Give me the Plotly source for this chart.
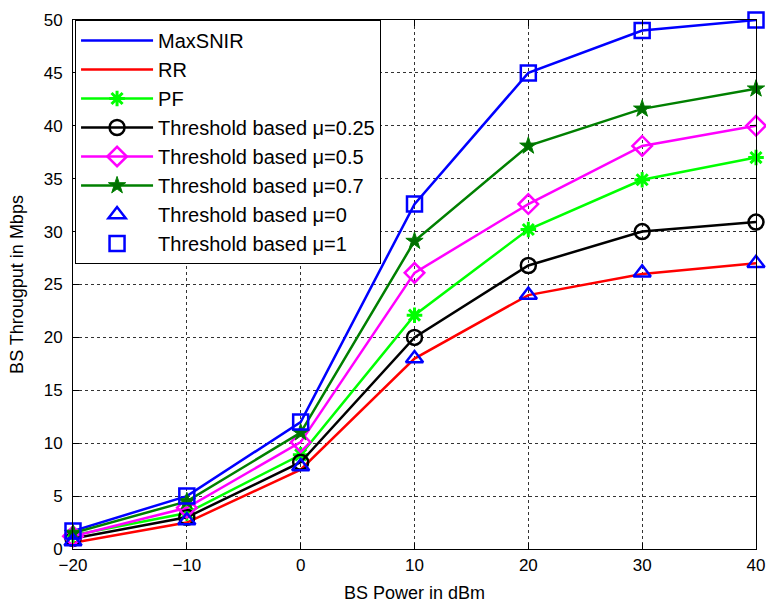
import plotly.graph_objects as go

power_dbm = [-20, -10, 0, 10, 20, 30, 40]
maxsnir = [1.7, 5.0, 12.0, 32.6, 45.0, 49.0, 50.0]
rr = [0.6, 2.5, 7.5, 18.0, 24.0, 26.0, 27.0]
pf = [1.3, 3.4, 8.9, 22.1, 30.2, 34.9, 37.0]
thr_025 = [1.0, 3.0, 8.2, 20.0, 26.8, 30.0, 30.9]
thr_05 = [1.2, 3.9, 10.1, 26.1, 32.6, 38.1, 40.0]
thr_07 = [1.5, 4.5, 11.0, 29.1, 38.1, 41.6, 43.5]
thr_0 = [0.7, 2.7, 7.8, 18.0, 24.0, 26.1, 27.0]
thr_1 = [1.7, 5.0, 12.0, 32.6, 45.0, 49.0, 50.0]

names = ["MaxSNIR", "RR", "PF", "Threshold based μ=0.25", "Threshold based μ=0.5",
         "Threshold based μ=0.7", "Threshold based μ=0", "Threshold based μ=1"]

fig = go.Figure()
lw = 2.5
fig.add_trace(go.Scatter(x=power_dbm, y=maxsnir, name=names[0], mode="lines",
                         line=dict(color="#0000ff", width=lw), cliponaxis=False))
fig.add_trace(go.Scatter(x=power_dbm, y=rr, name=names[1], mode="lines",
                         line=dict(color="#ff0000", width=lw), cliponaxis=False))
fig.add_trace(go.Scatter(x=power_dbm, y=pf, name=names[2], mode="lines+markers",
                         line=dict(color="#00ff00", width=lw),
                         marker=dict(symbol="asterisk-open", size=13, color="#00ff00",
                                     line=dict(color="#00ff00", width=3)), cliponaxis=False))
fig.add_trace(go.Scatter(x=power_dbm, y=thr_025, name=names[3], mode="lines+markers",
                         line=dict(color="#000000", width=lw),
                         marker=dict(symbol="circle-open", size=15, color="#000000",
                                     line=dict(color="#000000", width=2.5)), cliponaxis=False))
fig.add_trace(go.Scatter(x=power_dbm, y=thr_05, name=names[4], mode="lines+markers",
                         line=dict(color="#ff00ff", width=lw),
                         marker=dict(symbol="diamond-open", size=15, color="#ff00ff",
                                     line=dict(color="#ff00ff", width=2.5)), cliponaxis=False))
fig.add_trace(go.Scatter(x=power_dbm, y=thr_07, name=names[5], mode="lines+markers",
                         line=dict(color="#008000", width=lw),
                         marker=dict(symbol="star", size=13, color="#007000",
                                     line=dict(color="#008000", width=1)), cliponaxis=False))
fig.add_trace(go.Scatter(x=power_dbm, y=thr_0, name=names[6], mode="markers",
                         marker=dict(symbol="triangle-up-open", size=15, color="#0000ff",
                                     line=dict(color="#0000ff", width=2.5)), cliponaxis=False))
fig.add_trace(go.Scatter(x=power_dbm, y=thr_1, name=names[7], mode="markers",
                         marker=dict(symbol="square-open", size=15, color="#0000ff",
                                     line=dict(color="#0000ff", width=2.5)), cliponaxis=False))

axis_common = dict(showline=True, linecolor="black", linewidth=1, mirror="ticks",
                   ticks="inside", ticklen=6, tickcolor="black",
                   showgrid=True, gridcolor="#333333", griddash="dot", gridwidth=1,
                   zeroline=False, tickfont=dict(size=17, color="black"))

fig.update_layout(
    width=766, height=603,
    margin=dict(l=73, r=10, t=20, b=54),
    paper_bgcolor="white", plot_bgcolor="white",
    font=dict(family="Liberation Sans, Arial, sans-serif", color="black"),
    xaxis=dict(range=[-20, 40], tickvals=[-20, -10, 0, 10, 20, 30, 40],
               ticklabelstandoff=1, automargin=False,
               title=dict(text="BS Power in dBm", font=dict(size=18)),
               **axis_common),
    yaxis=dict(range=[0, 50], tickvals=list(range(0, 51, 5)),
               ticklabelstandoff=6, automargin=False,
               title=dict(text="BS Througput in Mbps", font=dict(size=18)),
               **axis_common),
    legend=dict(x=0.003, y=1.0, xanchor="left", yanchor="top",
                bgcolor="white", bordercolor="black", borderwidth=1,
                font=dict(size=20, color="black"), itemwidth=72,
                tracegroupgap=0),
    showlegend=True,
)

fig.write_html("out.html")
